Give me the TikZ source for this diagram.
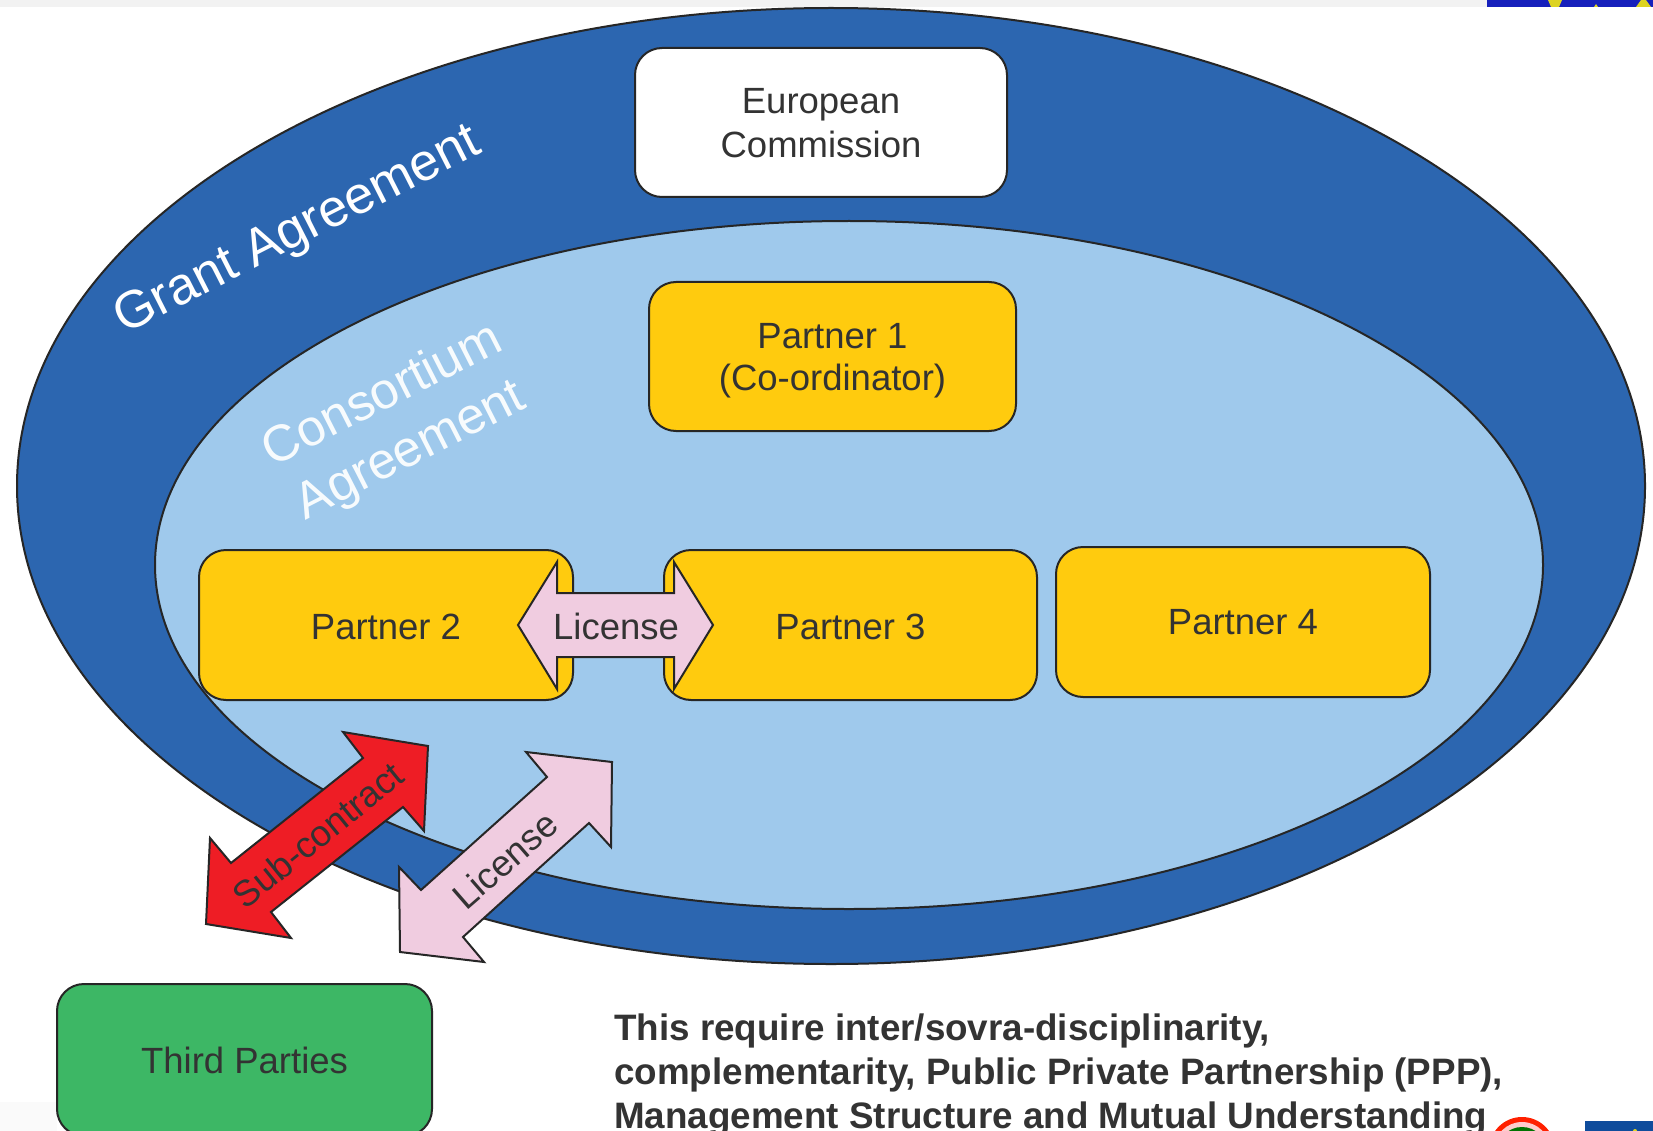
\documentclass[tikz,border=0pt]{standalone}
\usepackage{fontspec}
\setmainfont{Liberation Sans}
\definecolor{outerblue}{HTML}{2C66B0}
\definecolor{innerblue}{HTML}{9FC9EC}
\definecolor{pyellow}{HTML}{FFCB0E}
\definecolor{tgreen}{HTML}{3DB765}
\definecolor{sred}{HTML}{EE1D25}
\definecolor{lpink}{HTML}{F0CCE0}
\definecolor{ink}{HTML}{333333}
\definecolor{euro}{HTML}{1620BC}
\definecolor{euro2}{HTML}{0F4C9C}
\newcommand{\labelfont}{\fontsize{36.5}{43}\selectfont}
\tikzset{
  x=1pt,y=-1pt,
  edge/.style={draw=black!85,line width=2pt},
  boxbase/.style={edge,rounded corners=27pt,text=ink,align=center,font=\labelfont,inner sep=0pt,anchor=north west},
  ecbox/.style={boxbase,fill=white},
  partnerbox/.style={boxbase,fill=pyellow},
  thirdbox/.style={boxbase,fill=tgreen},
  arrowshape/.style={edge,line join=miter},
  arrowtext/.style={text=ink,font=\labelfont},
  ovaltext/.style={text=white,align=center},
}
\begin{document}
\begin{tikzpicture}
\useasboundingbox (0,0) rectangle (1653,1131);
\clip (0,0) rectangle (1653,1131);
\fill[white] (0,0) rectangle (1653,1131);
% screenshot remnants
\fill[black!5] (0,0) rectangle (1487,7);
\fill[euro] (1487,0) rectangle (1653,7);
\fill[yellow!85!black] (1548,0) -- (1562,0) -- (1559,7) -- (1551,7) -- cycle;
\fill[yellow!85!black] (1594,7) -- (1596,4) -- (1598,7) -- cycle;
\fill[yellow!85!black] (1636,7) -- (1641,0) -- (1646,0) -- (1651,7) -- cycle;
\fill[black!2] (0,1102) rectangle (57,1131);
% ovals
\fill[outerblue,draw=black!85,line width=2pt] (831,486) ellipse [x radius=814,y radius=478];
\fill[innerblue,draw=black!85,line width=2pt] (849,565) ellipse [x radius=694,y radius=344];
% boxes
\node[ecbox,minimum width=372pt,minimum height=149pt] (ec) at (634,47) {\rule{0pt}{27pt}European\\[1pt]Commission};
\node[partnerbox,minimum width=367pt,minimum height=149pt] (p1) at (648,281) {\rule{0pt}{33pt}Partner 1\\[-1pt](Co-ordinator)};
\node[partnerbox,minimum width=374pt,minimum height=150pt] (p2) at (198,549) {\rule{0pt}{30pt}Partner 2};
\node[partnerbox,minimum width=373pt,minimum height=150pt] (p3) at (663,549) {\rule{0pt}{30pt}Partner 3};
\node[partnerbox,minimum width=374pt,minimum height=150pt] (p4) at (1055,546) {Partner 4};
\node[thirdbox,minimum width=375pt,minimum height=152pt] (tp) at (56,983) {Third Parties};
% oval labels
\node[ovaltext,rotate=27,font=\fontsize{52.5}{62}\selectfont] (ga) at (298,232) {Grant Agreement};
\node[ovaltext,rotate=27,text=white!92!innerblue,font=\fontsize{51}{62}\selectfont] (ca) at (397,424) {Consortium\\Agreement};
% arrows
\draw[arrowshape,fill=lpink] (518,625) -- (557,562) -- (557,593) -- (674,593) -- (674,562) -- (713,625) -- (674,689) -- (674,657) -- (557,657) -- (557,689) -- cycle;
\node[arrowtext] (l1) at (616,626) {License};
\draw[arrowshape,fill=sred] (428,746) -- (343,732) -- (363,758) -- (231,863) -- (210,838) -- (206,924) -- (291,938) -- (271,912) -- (403,807) -- (424,831) -- cycle;
\node[arrowtext,rotate=39] (sc) at (318,835) {Sub-contract};
\draw[arrowshape,fill=lpink] (612,762) -- (526,752) -- (547,777) -- (421,890) -- (399,867) -- (400,952) -- (484,962) -- (463,937) -- (589,823) -- (611,847) -- cycle;
\node[arrowtext,rotate=41] (l2) at (505,860) {License};
% note
\node[anchor=north west,align=left,inner sep=0pt,text=ink,font=\bfseries\fontsize{36.8}{43.7}\selectfont] (note) at (614,1014) {This require inter/sovra-disciplinarity,\\complementarity, Public Private Partnership (PPP),\\Management Structure and Mutual Understanding};
% screenshot remnants, bottom right
\fill[red!75!orange] (1522,1150) circle [radius=33];
\fill[red!20] (1522,1150) circle [radius=28];
\fill[green!45!black] (1522,1152) circle [radius=25];
\fill[euro2] (1585,1121) rectangle (1653,1131);
\fill[yellow!85!black] (1635,1131) circle [radius=2];
\end{tikzpicture}
\end{document}
